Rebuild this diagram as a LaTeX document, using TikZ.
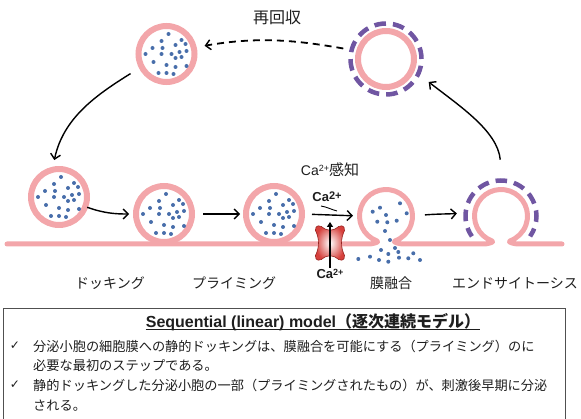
\documentclass[tikz,border=0pt]{standalone}
\usepackage{fontspec}
\setmainfont{Liberation Sans}
\newfontfamily\jp{Noto Sans CJK JP}
\newfontfamily\sym{DejaVu Sans}
\usetikzlibrary{arrows.meta}

\definecolor{pinkm}{RGB}{243,166,170}
\definecolor{dotb}{RGB}{72,110,170}
\definecolor{purp}{RGB}{112,86,162}
\definecolor{chred}{RGB}{214,64,60}
\definecolor{chdark}{RGB}{150,35,32}
\definecolor{boxgray}{RGB}{80,80,80}
\definecolor{txt}{RGB}{30,30,30}

% scattered transmitter dots inside a vesicle
\newcommand\vesdots[1]{%
  \foreach \dx/\dy in {0/20,-7/13,13/14,-16/6,-6/6,7/9,17/10,-23/0,-7/0,3/0,11/2,18/3,13/-3,7/-4,-15/-8,-2/-11,7/-13,18/-12,-10/-19,-2/-19,5/-20}
    {\fill[dotb] ([shift={(\dx+2,\dy)}]#1.center) circle (2);}}

\tikzset{
  ves/.style={circle, draw=pinkm, line width=6pt, minimum size=56pt, inner sep=0pt, outer sep=0pt, fill=white},
  ghost/.style={circle, minimum size=53pt, inner sep=0pt, outer sep=0pt},
  memb/.style={draw=pinkm, line width=5pt, line cap=round, line join=round},
  coat/.style={draw=purp, line width=4.5pt},
  arr/.style={-{Straight Barb[length=5pt,width=10pt,line width=1.4pt]}, line width=1.4pt, black},
  lbl/.style={font=\fontsize{14}{16}\selectfont\jp, text=txt, inner sep=0pt},
  boxtxt/.style={font=\fontsize{13.2}{16}\selectfont\jp, text=txt, inner sep=0pt, anchor=west},
  tick/.style={font=\fontsize{12}{12}\selectfont\sym, text=txt, inner sep=0pt},
}

\begin{document}
\begin{tikzpicture}[x=1pt,y=1pt]
\useasboundingbox (0,0) rectangle (581,418);

% plasma membrane with the fusion pore and the endocytic pit
\draw[memb] (7,174) -- (369,174) to[out=0,in=-20] (376.94,177.1)
  arc[start angle=250,end angle=-70,radius=26.5] to[out=200,in=180] (403,174)
  -- (484,174) to[out=0,in=-20] (491.94,177.1)
  arc[start angle=250,end angle=-70,radius=26.5] to[out=200,in=180] (518,174)
  -- (562,174);
\node[ghost] (fu) at (386,202) {};
\node[ghost] (en) at (501,202) {};
\draw[coat, dash pattern=on 11.5pt off 7pt, dash phase=2pt]
  ([shift={(215:35.5)}]en.center) arc[start angle=215,end angle=-35,radius=35.5];

% released contents
\foreach \px/\py in {372.7/206.3,380/210.3,386/203,400/214.7,406.7/204.7,377.3/196.3,387.3/195.7,396.7/197.3,385/187,390/178,381/168,395/170,388.3/164,398.3/166,358.3/159,370/161.3,379/158,388.3/156.3,399/160.3,408.3/159.7,413.3/164.7,420/158}
  {\fill[dotb] (\px,\py) circle (2);}

% vesicles
\node[ves] (v1) at (166.5,364) {}; \vesdots{v1}
\node[ves] (vL) at (59,221) {};   \vesdots{vL}
\node[ves] (vD) at (164,204) {};  \vesdots{vD}
\node[ves] (vP) at (274,204) {};  \vesdots{vP}
\node[ves] (vR) at (386,359) {};
\node[circle, coat, minimum size=71pt, inner sep=0pt, dash pattern=on 11.6pt off 7pt] (vRc) at (386,359) {};

% cycle arrows
\draw[arr, line width=1.8pt, dash pattern=on 7pt off 5pt, shorten <=16pt, shorten >=11pt]
  (vR.164) to[out=170,in=10] (v1.13);
\node[font=\fontsize{16}{18}\selectfont\jp, text=txt] (recyc) at (277,401) {再回収};
\draw[arr, shorten <=13pt, shorten >=10pt] (v1.207) to[out=212,in=78] (vL.104);
\draw[arr, shorten <=2pt, shorten >=7pt] (vL.-20) to[out=-20,in=180] (vD.180);
\draw[arr, shorten <=11pt, shorten >=6pt] (vD.east) -- (vP.west);
\draw[arr, shorten <=10pt, shorten >=6.5pt] (vP.east) -- (fu.west);
\draw[arr, shorten <=12.5pt, shorten >=18pt] (fu.east) to[out=5,in=-175] (en.171);
\draw[arr, shorten <=30pt, shorten >=21pt] (en.86) to[out=95,in=-38] (vR.-21);

% calcium sensing
\node[font=\fontsize{14}{16}\selectfont, text=txt, inner sep=0pt] (sens) at (330,248)
  {Ca\raisebox{0.55ex}{\fontsize{9}{9}\selectfont 2+}{\jp\fontsize{15}{16}\selectfont 感知}};
\node[font=\fontsize{13}{14}\selectfont\bfseries, text=txt, inner sep=0pt] (caT) at (327,221)
  {Ca\raisebox{0.35ex}{\fontsize{11}{11}\selectfont 2+}};
\coordinate (curlA) at (321,212);
\coordinate (curlB) at (337,207);
\draw[line width=0.9pt] (curlA) to[out=-10,in=165] (curlB);

% calcium channel
\begin{scope}[shift={(330,175)}]
  \shadedraw[inner color=white, outer color=chred, draw=chdark, line width=0.6pt]
    (-5,14) .. controls (0,12.5) .. (5,14)
    .. controls (10,18.5) and (15,18.5) .. (14.5,12.5)
    .. controls (10.5,4) and (10.5,-4) .. (14.5,-12.5)
    .. controls (15,-18.5) and (10,-18.5) .. (5,-14)
    .. controls (0,-12.5) .. (-5,-14)
    .. controls (-10,-18.5) and (-15,-18.5) .. (-14.5,-12.5)
    .. controls (-10.5,-4) and (-10.5,4) .. (-14.5,12.5)
    .. controls (-15,18.5) and (-10,18.5) .. (-5,14) -- cycle;
\end{scope}
\node[font=\fontsize{13}{14}\selectfont\bfseries, text=txt, inner sep=0pt] (caB) at (330,144)
  {Ca\raisebox{0.45ex}{\fontsize{9}{9}\selectfont 2+}};
\coordinate (chT) at (330,196);
\draw[line width=1.2pt, -{Triangle[length=5pt,width=6pt]}] ([yshift=1pt]caB.north) -- (chT);

% stage labels
\node[lbl] (l1) at (110,135) {ドッキング};
\node[lbl] (l2) at (234,135) {プライミング};
\node[lbl] (l3) at (391,135) {膜融合};
\node[lbl] (l4) at (515,135) {エンドサイトーシス};

% summary box
\draw[boxgray, line width=0.9pt] (3,-3) -- (3,110) -- (565,110) -- (565,-3);
\node[font=\fontsize{16}{18}\selectfont\bfseries, text=txt, inner sep=0pt] (title) at (313,96)
  {Sequential (linear) model{\jp （逐次連続モデル）}};
\draw[txt, line width=0.9pt] ([yshift=-2.5pt]title.base west) -- ([yshift=-2.5pt]title.base east);
\node[tick] (c1) at (15,72) {✓};
\node[boxtxt] (t1) at (33,72) {分泌小胞の細胞膜への静的ドッキングは、膜融合を可能にする（プライミング）のに};
\node[boxtxt] (t2) at (33,53) {必要な最初のステップである。};
\node[tick] (c2) at (15,33) {✓};
\node[boxtxt] (t3) at (33,33) {静的ドッキングした分泌小胞の一部（プライミングされたもの）が、刺激後早期に分泌};
\node[boxtxt] (t4) at (33,12) {される。};
\end{tikzpicture}
\end{document}
